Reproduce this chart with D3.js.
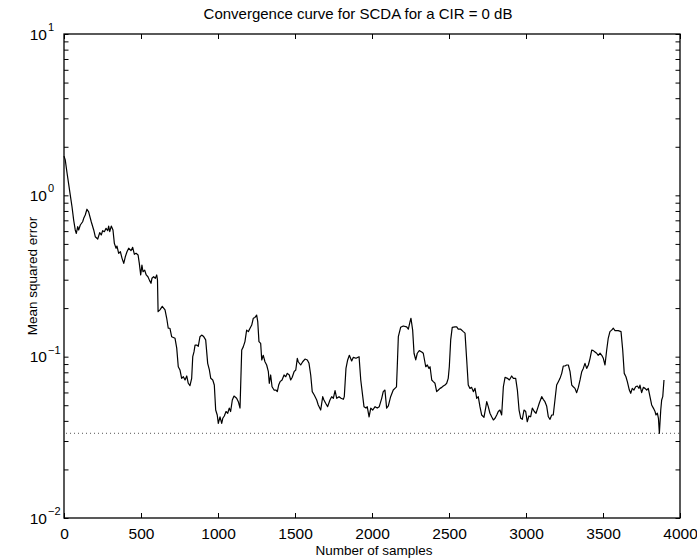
<!DOCTYPE html>
<html>
<head>
<meta charset="utf-8">
<script src="https://cdn.jsdelivr.net/npm/d3@7"></script>
<style>
  body { margin: 0; background: #fff; }
  text { font-family: "Liberation Sans", Arial, Helvetica, sans-serif; fill: #000; }
</style>
</head>
<body>
<svg width="697" height="559"></svg>
<script>
// sample index and mean squared error
var samples = [0, 8, 20, 41, 52, 63, 73, 80, 89, 95, 106, 121, 128, 138, 149, 160, 177, 193, 203, 219,
  232, 242, 251, 262, 273, 284, 290, 297, 307, 318, 327, 338, 344, 355, 366, 377, 388, 398, 409, 420,
  435, 446, 457, 468, 481, 489, 498, 506, 513, 524, 534, 545, 556, 565, 571, 582, 593, 602, 607, 611,
  623, 638, 656, 667, 677, 688, 699, 721, 732, 742, 753, 764, 775, 786, 797, 807, 818, 829, 836, 844,
  851, 862, 872, 883, 894, 905, 920, 933, 944, 953, 966, 976, 985, 995, 1002, 1013, 1024, 1031, 1041, 1052,
  1063, 1073, 1082, 1093, 1104, 1121, 1132, 1143, 1154, 1164, 1175, 1186, 1197, 1208, 1219, 1229, 1240, 1251, 1258, 1266,
  1277, 1284, 1294, 1305, 1316, 1327, 1333, 1342, 1351, 1364, 1377, 1385, 1394, 1403, 1416, 1429, 1440, 1450, 1463, 1472,
  1482, 1494, 1505, 1515, 1521, 1537, 1550, 1565, 1580, 1591, 1602, 1612, 1625, 1641, 1651, 1667, 1680, 1688, 1699, 1712,
  1727, 1738, 1749, 1760, 1771, 1786, 1799, 1814, 1820, 1831, 1842, 1853, 1868, 1879, 1896, 1916, 1927, 1940, 1948, 1961,
  1969, 1981, 1992, 2005, 2020, 2034, 2047, 2063, 2073, 2084, 2095, 2106, 2121, 2138, 2149, 2159, 2164, 2171, 2186, 2203,
  2225, 2236, 2247, 2253, 2264, 2273, 2284, 2294, 2307, 2323, 2333, 2349, 2359, 2370, 2377, 2388, 2398, 2409, 2420, 2431,
  2442, 2453, 2463, 2474, 2485, 2495, 2502, 2511, 2521, 2539, 2550, 2560, 2576, 2593, 2604, 2615, 2625, 2636, 2647, 2658,
  2669, 2680, 2690, 2701, 2712, 2727, 2738, 2745, 2755, 2766, 2777, 2788, 2799, 2810, 2820, 2831, 2842, 2853, 2864, 2879,
  2892, 2907, 2918, 2933, 2944, 2955, 2966, 2976, 2987, 2998, 3008, 3019, 3030, 3041, 3054, 3065, 3076, 3086, 3102, 3112,
  3123, 3134, 3145, 3156, 3167, 3177, 3188, 3199, 3210, 3221, 3232, 3242, 3253, 3264, 3275, 3286, 3297, 3307, 3318, 3329,
  3340, 3351, 3362, 3372, 3383, 3394, 3405, 3416, 3427, 3437, 3448, 3459, 3469, 3481, 3492, 3502, 3513, 3524, 3534, 3545,
  3556, 3567, 3578, 3599, 3617, 3628, 3638, 3649, 3658, 3671, 3680, 3690, 3701, 3712, 3723, 3734, 3740, 3751, 3762, 3773,
  3784, 3794, 3805, 3816, 3827, 3838, 3844, 3853, 3860, 3866, 3875, 3881, 3888, 3896];

var mse = [1.75, 1.66, 1.37, 1.0, 0.85, 0.70, 0.61, 0.58, 0.64, 0.61, 0.655, 0.686, 0.72, 0.755, 0.82, 0.79, 0.686, 0.61, 0.554, 0.536,
  0.587, 0.568, 0.604, 0.595, 0.624, 0.604, 0.645, 0.595, 0.645, 0.61, 0.504, 0.47, 0.485, 0.437, 0.447, 0.407, 0.379, 0.416, 0.447, 0.47,
  0.454, 0.476, 0.431, 0.437, 0.427, 0.379, 0.321, 0.37, 0.336, 0.344, 0.321, 0.313, 0.296, 0.285, 0.306, 0.313, 0.306, 0.321, 0.299, 0.19,
  0.195, 0.205, 0.195, 0.173, 0.15, 0.15, 0.133, 0.13, 0.113, 0.0866, 0.0827, 0.0734, 0.0751, 0.0717, 0.0759, 0.0684, 0.0661, 0.0734, 0.100, 0.107,
  0.118, 0.118, 0.116, 0.133, 0.136, 0.134, 0.127, 0.0909, 0.0827, 0.0734, 0.0717, 0.0667, 0.0467, 0.0435, 0.0386, 0.0424, 0.0386, 0.0415, 0.0429, 0.0457,
  0.0446, 0.048, 0.0457, 0.0539, 0.057, 0.0552, 0.0526, 0.048, 0.110, 0.115, 0.124, 0.146, 0.143, 0.15, 0.157, 0.173, 0.175, 0.181, 0.165, 0.124,
  0.121, 0.0954, 0.102, 0.093, 0.0888, 0.0807, 0.0684, 0.077, 0.0651, 0.0621, 0.0621, 0.0607, 0.0667, 0.07, 0.0717, 0.077, 0.0751, 0.0788, 0.077, 0.0717,
  0.0745, 0.0807, 0.0827, 0.0977, 0.093, 0.0888, 0.093, 0.0967, 0.0954, 0.0909, 0.077, 0.0607, 0.0579, 0.0539, 0.0502, 0.0467, 0.0565, 0.0539, 0.0514, 0.049,
  0.0539, 0.0565, 0.0552, 0.0616, 0.0552, 0.0565, 0.0552, 0.0544, 0.0565, 0.0846, 0.0954, 0.102, 0.094, 0.099, 0.0977, 0.100, 0.0717, 0.0565, 0.049, 0.048,
  0.049, 0.0424, 0.048, 0.0467, 0.049, 0.048, 0.049, 0.0552, 0.0607, 0.0621, 0.048, 0.0495, 0.0565, 0.0621, 0.0636, 0.065, 0.0866, 0.133, 0.152, 0.155,
  0.153, 0.148, 0.165, 0.173, 0.146, 0.105, 0.0954, 0.105, 0.109, 0.107, 0.105, 0.0866, 0.0888, 0.0846, 0.0866, 0.0717, 0.07, 0.0684, 0.0607, 0.0621,
  0.0636, 0.0645, 0.0658, 0.0667, 0.0684, 0.0734, 0.0866, 0.127, 0.152, 0.153, 0.153, 0.148, 0.148, 0.143, 0.14, 0.0954, 0.0667, 0.0636, 0.0645, 0.0607,
  0.0636, 0.0552, 0.0565, 0.049, 0.0435, 0.0421, 0.048, 0.0526, 0.049, 0.0446, 0.0424, 0.0405, 0.0415, 0.0435, 0.0457, 0.0467, 0.0435, 0.0651, 0.0745, 0.0734,
  0.0717, 0.0759, 0.0734, 0.0734, 0.0621, 0.0467, 0.0415, 0.0409, 0.0467, 0.0457, 0.0395, 0.0429, 0.0424, 0.048, 0.0457, 0.0446, 0.048, 0.0514, 0.0565, 0.0544,
  0.0526, 0.0495, 0.0424, 0.0409, 0.0435, 0.0435, 0.0539, 0.0667, 0.07, 0.0734, 0.0788, 0.0875, 0.0875, 0.0888, 0.0888, 0.0807, 0.0667, 0.0651, 0.0636, 0.0598,
  0.0645, 0.0717, 0.0807, 0.0846, 0.0909, 0.0846, 0.0888, 0.0977, 0.110, 0.109, 0.107, 0.105, 0.102, 0.105, 0.102, 0.0977, 0.0888, 0.110, 0.13, 0.143,
  0.146, 0.15, 0.145, 0.145, 0.143, 0.110, 0.0788, 0.0751, 0.07, 0.0621, 0.0593, 0.0636, 0.0621, 0.0651, 0.0658, 0.0636, 0.0667, 0.0598, 0.0645, 0.0636,
  0.0621, 0.0636, 0.0565, 0.0502, 0.048, 0.0457, 0.0435, 0.0446, 0.0415, 0.0335, 0.0467, 0.0539, 0.0565, 0.0717];

var floorLevel = 0.0335;   // dotted reference level
var xTicks = [0, 500, 1000, 1500, 2000, 2500, 3000, 3500, 4000];
var decades = [0.01, 0.1, 1, 10];
var exponents = ["\u22122", "\u22121", "0", "1"];

var svg = d3.select("svg");
var padL = 64, padR = 680, padT = 34, padB = 518;

var x = d3.scaleLinear().domain([0, 4000]).range([padL, padR]);
var y = d3.scaleLog().domain([0.01, 10]).range([padB, padT]);

var data = samples.map(function(s, i) { return {x: s, y: mse[i]}; });

// minor + major log ticks
var yTicks = [];
decades.forEach(function(d, i) {
  if (i < decades.length - 1) {
    for (var k = 1; k < 10; k++) yTicks.push(d * k);
  } else yTicks.push(d);
});

var g = svg.append("g");

// dotted floor
g.append("line")
  .attr("x1", x(0)).attr("x2", x(4000))
  .attr("y1", y(floorLevel)).attr("y2", y(floorLevel))
  .attr("stroke", "#555")
  .attr("stroke-width", 1)
  .attr("stroke-dasharray", "1,3")
  .attr("stroke-dashoffset", -2);

// curve
var line = d3.line()
  .x(function(d) { return x(d.x); })
  .y(function(d) { return y(d.y); });

g.append("path")
  .datum(data)
  .attr("fill", "none")
  .attr("stroke", "#000")
  .attr("stroke-width", 1.2)
  .attr("stroke-linejoin", "round")
  .attr("d", line);

// axes with inward ticks
function styleAxis(sel) {
  sel.select(".domain").remove();
  sel.selectAll(".tick line").attr("stroke", "#000").attr("stroke-width", 1);
}

g.append("g")
  .attr("transform", "translate(0," + padB + ")")
  .call(d3.axisBottom(x).tickValues(xTicks).tickSize(-5).tickPadding(10).tickFormat(d3.format("d")))
  .call(styleAxis)
  .selectAll("text")
  .style("font-size", "15.5px")
  .style("font-family", "'Liberation Sans', Arial, sans-serif");

g.append("g")
  .attr("transform", "translate(0," + padT + ")")
  .call(d3.axisTop(x).tickValues(xTicks).tickSize(-5).tickFormat(""))
  .call(styleAxis);

g.append("g")
  .attr("transform", "translate(" + padL + ",0)")
  .call(d3.axisLeft(y).tickValues(yTicks).tickSize(-4.5).tickFormat(""))
  .call(styleAxis);

g.append("g")
  .attr("transform", "translate(" + padR + ",0)")
  .call(d3.axisRight(y).tickValues(yTicks).tickSize(-4.5).tickFormat(""))
  .call(styleAxis);

// box
g.append("rect")
  .attr("x", padL).attr("y", padT)
  .attr("width", padR - padL).attr("height", padB - padT)
  .attr("fill", "none")
  .attr("stroke", "#000")
  .attr("stroke-width", 1.3);

// y labels as 10^k
var yl = g.selectAll(".ylab")
  .data(decades)
  .enter()
  .append("g")
  .attr("class", "ylab");

yl.append("text")
  .attr("x", 47)
  .attr("y", function(d) { return y(d) + 5.5; })
  .attr("text-anchor", "end")
  .style("font-size", "15.5px")
  .text("10");

yl.append("text")
  .attr("x", 48)
  .attr("y", function(d) { return y(d) - 3; })
  .style("font-size", "11px")
  .text(function(d, i) { return exponents[i]; });

// titles
svg.append("text")
  .attr("x", 358)
  .attr("y", 19)
  .attr("text-anchor", "middle")
  .style("font-size", "15px")
  .text("Convergence curve for SCDA for a CIR = 0 dB");

svg.append("text")
  .attr("x", 374)
  .attr("y", 555)
  .attr("text-anchor", "middle")
  .style("font-size", "13.5px")
  .text("Number of samples");

svg.append("text")
  .attr("transform", "translate(37," + 276 + ") rotate(-90)")
  .attr("text-anchor", "middle")
  .style("font-size", "13.5px")
  .text("Mean squared error");
</script>
</body>
</html>
